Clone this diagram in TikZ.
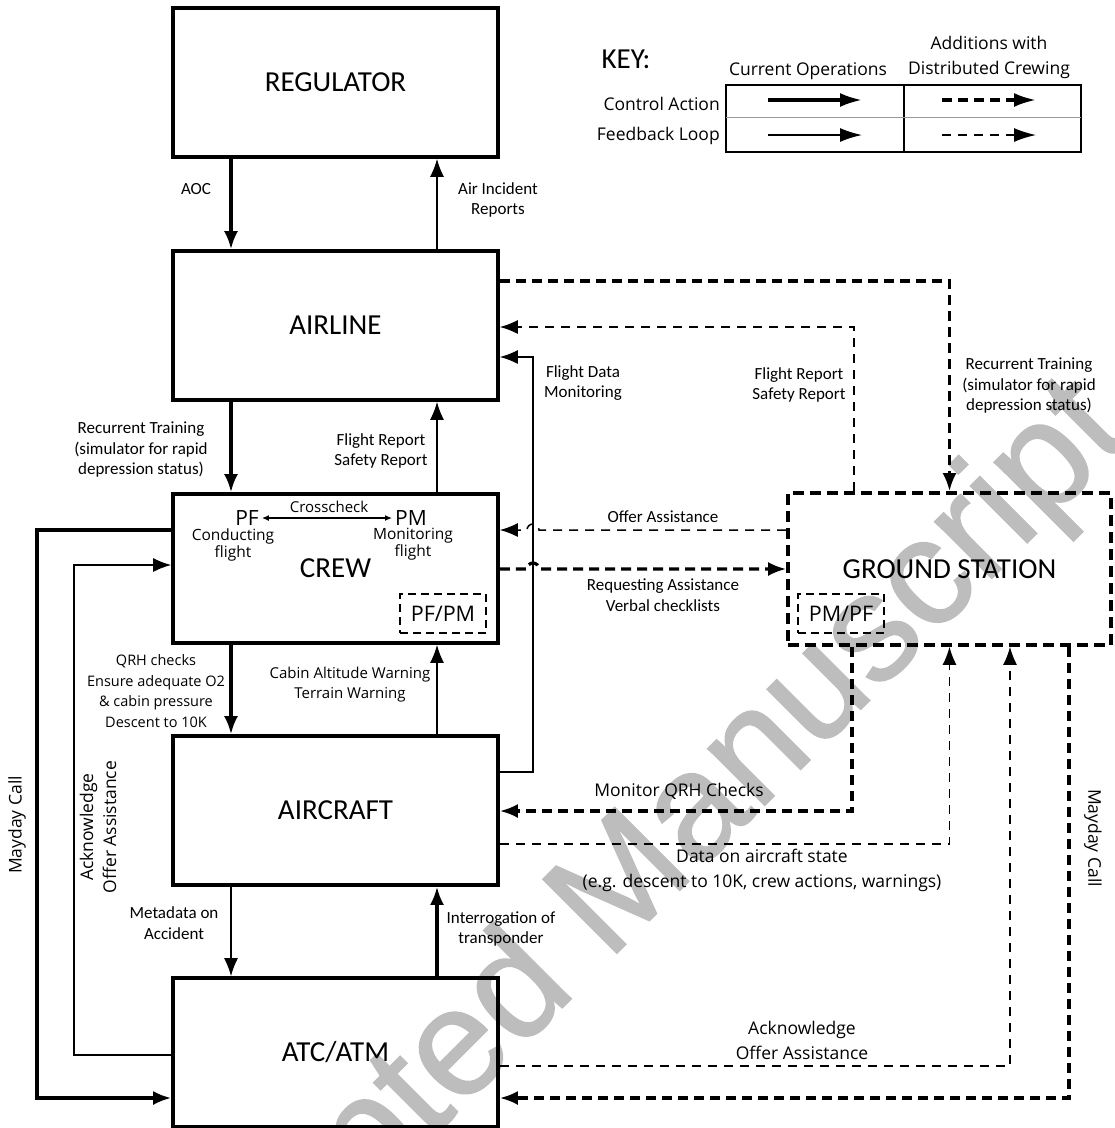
\documentclass[tikz,border=0pt]{standalone}
\usepackage{fontspec}
\setmainfont{Carlito}
\newfontfamily\segoe{Open Sans}
\newfontfamily\wmfont[FakeBold=1]{Liberation Sans}
\usetikzlibrary{arrows.meta}
\tikzset{
    every node/.style={inner sep=0pt, align=center,
    	font=\fontsize{17}{20.5}\selectfont}
}
\tikzset{
    block/.style={draw, line width=3.6pt, minimum width=325pt,
    	minimum height=149pt, font=\fontsize{29}{31}\selectfont},
    gblock/.style={block, minimum width=323pt, minimum height=152pt,
    	dash pattern=on 11pt off 6pt},
    inbox/.style={draw, line width=2.6pt, dash pattern=on 8pt off 5pt,
    	minimum width=86pt, minimum height=39pt,
    	font=\segoe\fontsize{21.5}{23}\selectfont},
    seg/.style={font=\segoe\fontsize{17.5}{22}\selectfont},
    big/.style={font=\segoe\fontsize{21}{23}\selectfont, inner sep=3pt},
    tiny/.style={font=\segoe\fontsize{15.5}{15.5}\selectfont}
}
\tikzset{
    ctrl/.style={line width=3.2pt, -{Latex[length=18pt,width=14pt]}},
    fdbk/.style={line width=1.5pt, -{Latex[length=18pt,width=14pt]}},
    dctrl/.style={ctrl, dash pattern=on 10pt off 6pt},
    dfdbk/.style={fdbk, dash pattern=on 9pt off 7pt},
    keytip/.style={-{Latex[length=22pt,width=14pt]}}
}

\begin{document}
\begin{tikzpicture}[x=1pt, y=-1pt]
  \useasboundingbox (0,0) rectangle (1115,1128);

  % watermark
  \begin{scope}
    \clip (0,0) rectangle (1115,1128);
    \node (wmark) [rotate=45, anchor=base west, text=black!26,
      font=\wmfont\fontsize{152}{152}\selectfont] at (130,1440)
      {Accepted Manuscript};
  \end{scope}

  \node (reg) [block] at (335.5, 82.5) {REGULATOR};
  \node (airl) [block] at (335.5, 325.5) {AIRLINE};
  \node (crew) [block] at (335.5, 568.5) {CREW};
  \node (acft) [block] at (335.5, 810.5) {AIRCRAFT};
  \node (atc) [block] at (335.5, 1052.5) {ATC/ATM};
  \node (gs) [gblock] at (949.5, 569) {GROUND STATION};

  % inside the crew and ground station boxes
  \node (pf) [big] at (247, 518) {PF};
  \node (pm) [big] at (411, 518) {PM};
  \node (lcc) [font=\segoe\fontsize{15}{16}\selectfont] at (329, 507) {Crosscheck};
  \node (lcond) [tiny] at (233, 545) {Conducting\\flight};
  \node (lmonf) [tiny] at (413, 544) {Monitoring\\flight};
  \node (pfpm) [inbox] at (443, 613.5) {PF/PM};
  \node (pmpf) [inbox] at (841, 613.5) {PM/PF};
  \draw[line width=1.2pt, {Latex[length=7pt,width=6pt]}-{Latex[length=7pt,width=6pt]}]
    (pf) -- (pm);

  % key
  \node (key) [font=\fontsize{29}{30}\selectfont] at (626, 59) {KEY:};
  \node (kcur) [seg] at (808, 71) {Current Operations};
  \node (kadd) [seg, font=\segoe\fontsize{17.5}{25}\selectfont] at (989, 57)
    {Additions with\\Distributed Crewing};
  \node (kca) [seg, anchor=east] at (720, 104) {Control Action};
  \node (kfl) [seg, anchor=east] at (720, 136) {Feedback Loop};
  \draw[line width=1.3pt] (726,85) rectangle (1081,152);
  \draw[line width=1.3pt] (904,85) -- (904,152);
  \draw[black!40] (726,117) -- (1081,117);
  \foreach \n/\y/\s/\d in {c/100/ctrl/dctrl, f/135/fdbk/dfdbk} {
    \coordinate (k\n1) at (768,\y); \coordinate (k\n2) at (862,\y);
    \coordinate (k\n3) at (942,\y); \coordinate (k\n4) at (1036,\y);
    \draw[\s, keytip] (k\n1) -- (k\n2);
    \draw[\d, keytip] (k\n3) -- (k\n4);
  }

  % current operations
  \draw[ctrl] (reg.south -| 231,0) -- (airl.north -| 231,0);
  \draw[fdbk] (airl.north -| 437,0) -- (reg.south -| 437,0);
  \draw[ctrl] (airl.south -| 231,0) -- (crew.north -| 231,0);
  \draw[fdbk] (crew.north -| 437,0) -- (airl.south -| 437,0);
  \draw[ctrl] (crew.south -| 231,0) -- (acft.north -| 231,0);
  \draw[fdbk] (acft.north -| 437,0) -- (crew.south -| 437,0);
  \draw[fdbk] (acft.south -| 231,0) -- (atc.north -| 231,0);
  \draw[ctrl] (atc.north -| 437,0) -- (acft.south -| 437,0);
  \draw[fdbk] (acft.east |- 0,772) -| (533,357) -- (airl.east |- 0,357);
  \draw[ctrl] (crew.west |- 0,530) -| (37,1098) -- (atc.west |- 0,1098);
  \draw[fdbk] (atc.west |- 0,1055) -| (74,565) -- (crew.west |- 0,565);

  % distributed crewing
  \draw[dctrl] (airl.east |- 0,281) -| (gs.north);
  \draw[dfdbk] (gs.north -| 854,0) |- (airl.east |- 0,327);
  \draw[dfdbk] (gs.west |- 0,530) -- (539,530)
    arc[start angle=0, end angle=180, radius=6pt] -- (crew.east |- 0,530);
  \draw[dctrl] (crew.east |- 0,569) -- (527,569)
    arc[start angle=180, end angle=0, radius=6pt] -- (gs.west |- 0,569);
  \draw[dctrl] (gs.south -| 852,0) |- (acft.east |- 0,811);
  \draw[dfdbk] (acft.east |- 0,844) -| (gs.south);
  \draw[dfdbk] (atc.east |- 0,1066) -| (gs.south -| 1010,0);
  \draw[dctrl] (gs.south -| 1069,0) |- (atc.east |- 0,1098);

  % labels
  \node (laoc) at (196, 189) {AOC};
  \node (lair) at (498, 200) {Air Incident\\Reports};
  \node (lrt1) at (141, 450) {Recurrent Training\\(simulator for rapid\\depression status)};
  \node (lfr1) at (381, 451) {Flight Report\\Safety Report};
  \node (lfdm) at (583, 383) {Flight Data\\Monitoring};
  \node (lfr2) at (799, 385) {Flight Report\\Safety Report};
  \node (lrt2) at (1029, 386) {Recurrent Training\\(simulator for rapid\\depression status)};
  \node (loa) at (663, 517) {Offer Assistance};
  \node (lreq) at (663, 595) {Requesting Assistance\\Verbal checklists};
  \node (lqrh) [seg, font=\segoe\fontsize{14.5}{20.7}\selectfont] at (156, 691)
    {QRH checks\\Ensure adequate O2\\\& cabin pressure\\Descent to 10K};
  \node (lcaw) [seg, font=\segoe\fontsize{15}{20}\selectfont] at (350, 685)
    {Cabin Altitude Warning\\Terrain Warning};
  \node (lmon) [seg] at (679, 791) {Monitor QRH Checks};
  \node (ldat) [seg, font=\segoe\fontsize{17.5}{25}\selectfont] at (762, 870)
    {Data on aircraft state\\(e.g. descent to 10K, crew actions, warnings)};
  \node (lmeta) at (174, 923) {Metadata on\\Accident};
  \node (lint) at (501, 929) {Interrogation of\\transponder};
  \node (lack2) [seg, font=\segoe\fontsize{17.5}{25}\selectfont] at (802, 1040)
    {Acknowledge\\Offer Assistance};
  \node (lmay1) [seg, rotate=90] at (17, 825) {Mayday Call};
  \node (lack1) [seg, font=\segoe\fontsize{17.5}{23}\selectfont, rotate=90] at (98, 827)
    {Acknowledge\\Offer Assistance};
  \node (lmay2) [seg, rotate=-90] at (1093, 838) {Mayday Call};
\end{tikzpicture}
\end{document}
